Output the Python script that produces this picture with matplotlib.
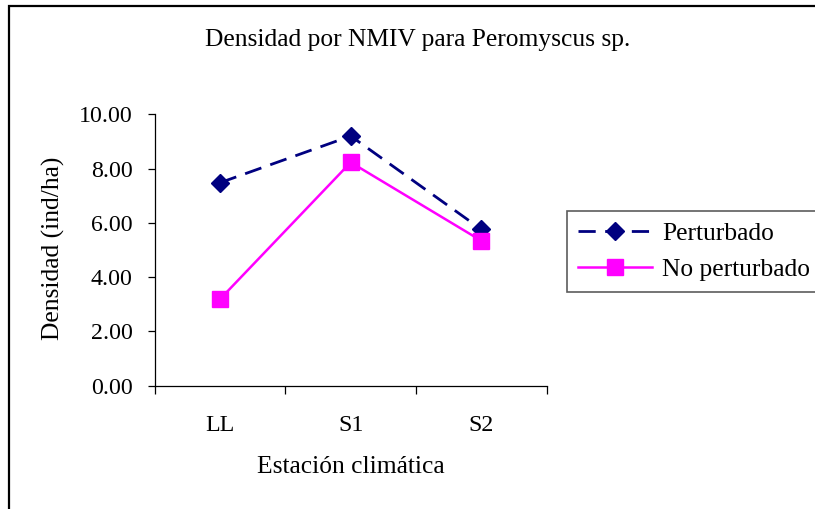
import matplotlib
matplotlib.use("Agg")
import matplotlib.pyplot as plt
from matplotlib.patches import Rectangle

plt.rcParams['font.family'] = ['Liberation Serif', 'DejaVu Serif']

estaciones = ['LL', 'S1', 'S2']
perturbado = [7.48, 9.20, 5.76]
no_perturbado = [3.19, 8.23, 5.34]
y_ticks = [0, 2, 4, 6, 8, 10]

FS_TICK = 17.2
FS = 18.4

fig = plt.figure(figsize=(8.15, 5.09), dpi=100)
ax = fig.add_axes([0.1898, 0.2422, 0.481, 0.5332])

x = list(range(len(estaciones)))
ax.plot(x, perturbado, color='#000080', lw=2.0, linestyle=(0, (6.2, 3.4)),
        marker='D', markersize=9, label='Perturbado')
ax.plot(x, no_perturbado, color='#FF00FF', lw=1.8,
        marker='s', markersize=11, label='No perturbado')

ax.set_xlim(-0.5, len(estaciones) - 0.5)
ax.set_ylim(0, 10)
ax.set_yticks(y_ticks)
ax.set_yticklabels([f'{v:.2f}' for v in y_ticks], fontsize=FS_TICK)

# category labels centred, tick marks on the boundaries between them
ax.set_xticks(x)
ax.set_xticklabels(estaciones, fontsize=FS_TICK)
ax.set_xticks([i - 0.5 for i in range(len(estaciones) + 1)], minor=True)
ax.tick_params(axis='x', which='major', length=0, pad=21)
ax.tick_params(axis='x', which='minor', length=5.5, width=0.9, direction='out')
ax.tick_params(axis='y', length=5, width=0.9, direction='out', pad=11)

for side in ('top', 'right'):
    ax.spines[side].set_visible(False)
for side in ('left', 'bottom'):
    ax.spines[side].set_linewidth(0.9)

fig.text(418 / 815, 1 - 40 / 509, 'Densidad por NMIV para Peromyscus sp.',
         ha='center', va='center', fontsize=FS)
fig.text(351 / 815, 1 - 467 / 509, 'Estación climática',
         ha='center', va='center', fontsize=FS)
fig.text(53 / 815, 1 - 248 / 509, 'Densidad (ind/ha)', rotation=90,
         ha='center', va='center', fontsize=FS)

leg = ax.legend(loc='upper left', bbox_to_anchor=(567 / 815, 1 - 211 / 509),
                bbox_transform=fig.transFigure, fontsize=FS, frameon=True,
                fancybox=False, handlelength=2.9, handletextpad=0.4,
                labelspacing=0.52, borderpad=0.42, borderaxespad=0)
leg.get_frame().set_edgecolor('#333333')
leg.get_frame().set_linewidth(1.2)

# chart area border, running off the right and bottom edges
fig.patches.append(Rectangle((9 / 815, -0.1), 1.2, 1 - 6.5 / 509 + 0.1,
                             transform=fig.transFigure, fill=False,
                             edgecolor='black', lw=1.6))

fig.savefig('out.png', dpi=100)
